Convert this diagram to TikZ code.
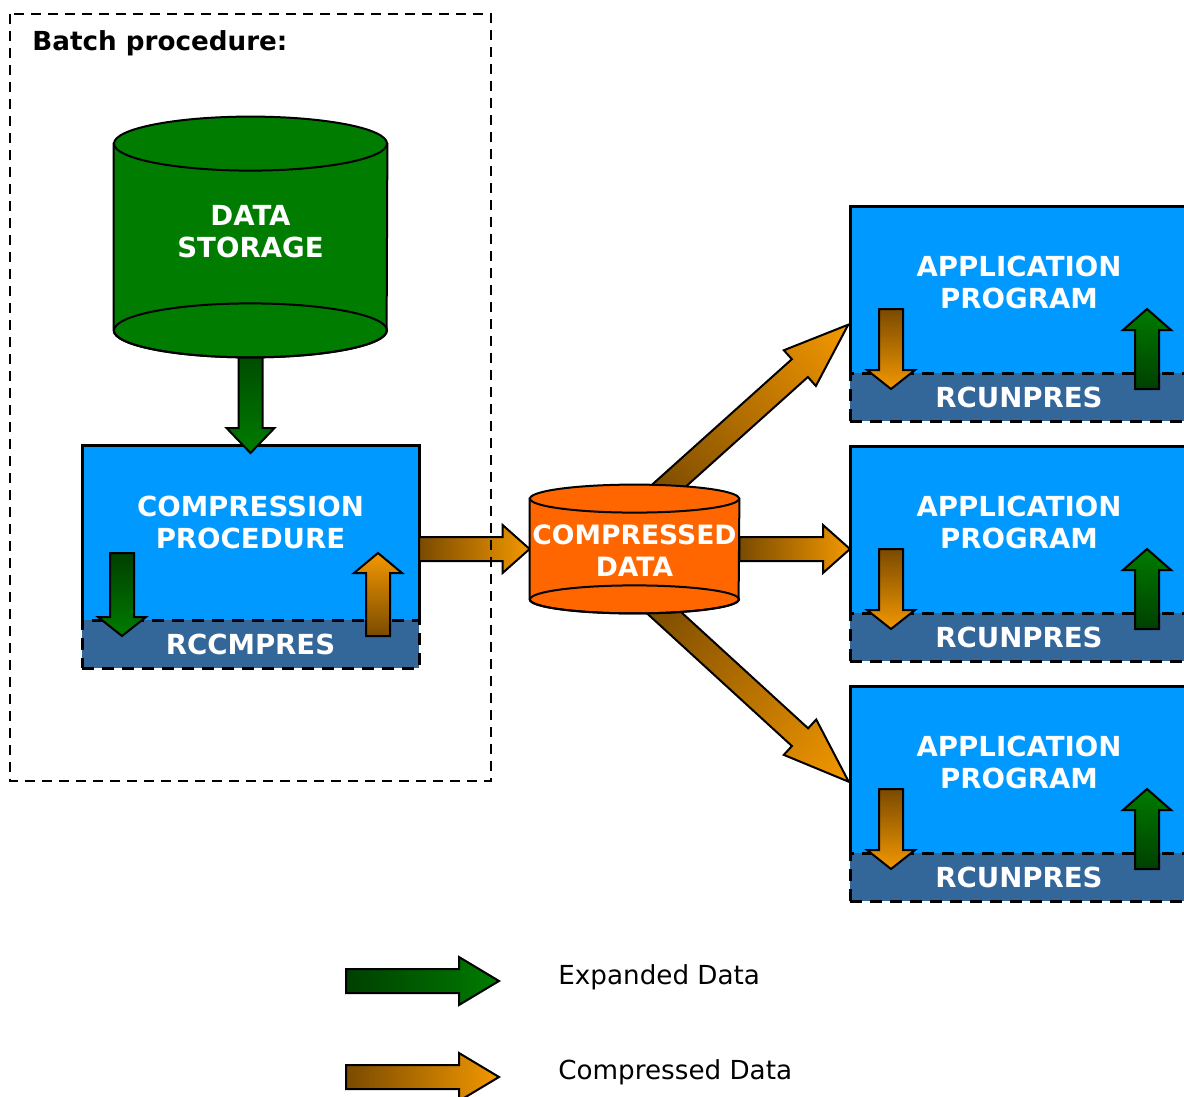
\documentclass[tikz,border=0pt]{standalone}
\usepackage{fontspec}
\setmainfont{DejaVu Sans}
\usetikzlibrary{calc}

\definecolor{procblue}{HTML}{0099FF}
\definecolor{bandblue}{HTML}{336699}
\definecolor{storegreen}{HTML}{007C00}
\definecolor{drumorange}{HTML}{FF6600}
\definecolor{arrlight}{HTML}{F39800}
\definecolor{arrdark}{HTML}{7A4A00}
\definecolor{grnlight}{HTML}{007C00}
\definecolor{grndark}{HTML}{003F00}

\tikzset{
  packed/.style = {left color=arrdark, right color=arrlight},
  expanded/.style = {left color=grndark, right color=grnlight},
  fatline/.style = {draw=black, line width=1pt},
  drumline/.style = {draw=black, line width=1pt},
  drumnode/.style = {rectangle, inner sep=0pt},
  boxtext/.style = {text=white, font=\fontsize{13.8}{16}\selectfont\bfseries, align=center},
  legtext/.style = {font=\fontsize{13.1}{16}\selectfont, anchor=west, inner sep=0pt},
  procbox/.style = {rectangle, fill=procblue, inner sep=0pt, outer sep=0pt},
  boxedge/.style = {draw=black, line width=1.5pt},
  libband/.style = {rectangle, draw=black, fill=bandblue, line width=1.5pt, dash pattern=on 6pt off 4pt, inner sep=0pt, outer sep=0pt},
  batchline/.style = {draw=black, line width=1pt, dash pattern=on 5pt off 3.5pt}
}

% fat block arrow: [head length in pt]{shading}{from}{to}
\newcommand\fatarrow[4][13.5]{%
  \path let \p1 = ($(#4)-(#3)$) in
    \pgfextra{\pgfmathparse{atan2(\y1,\x1)}\xdef\fatang{\pgfmathresult}%
              \pgfmathparse{veclen(\x1,\y1)}\xdef\fatlen{\pgfmathresult}};
  \shade[#2, fatline, transform canvas={shift={(#3)}, rotate=\fatang}]
    (0pt,-6pt) -- ({\fatlen pt-#1 pt},-6pt) -- ({\fatlen pt-#1 pt},-12pt)
    -- (\fatlen pt,0pt) -- ({\fatlen pt-#1 pt},12pt) -- ({\fatlen pt-#1 pt},6pt)
    -- (0pt,6pt) -- cycle;
}

% drum (cylinder) round an empty node: {node}{x radius}{y radius}{colour}
\newcommand\drum[4]{%
  \filldraw[fill=#4, drumline] (#1.north west) -- (#1.south west)
    arc[start angle=180, end angle=0, x radius=#2, y radius=#3] -- (#1.north east) -- cycle;
  \draw[drumline] (#1.south) ellipse [x radius=#2, y radius=#3];
  \filldraw[fill=#4, drumline] (#1.north) ellipse [x radius=#2, y radius=#3];
}

\begin{document}
\begin{tikzpicture}[x=0.5pt, y=-0.5pt]
\useasboundingbox (0,0) rectangle (1184,1097);
\clip (0,0) rectangle (1184,1097);

% Batch side
\node[drumnode, minimum width=136.5pt, minimum height=93pt] (storage) at (250.5,237) {};
\node[procbox, minimum width=168.5pt, minimum height=111.5pt] (comp) at (250.5,556.5) {};
\node[libband, minimum width=168.5pt, minimum height=24pt, anchor=south] (compband) at (comp.south) {};
\draw[boxedge] (compband.north west) |- (comp.north east) -- (compband.north east);

% Compressed data
\node[drumnode, minimum width=104.5pt, minimum height=50pt] (cdata) at (634.5,549) {};

% Application programs
\foreach \i in {1,2,3} {
  \node[procbox, minimum width=169pt, minimum height=107.5pt] (app\i) at (1019,{313.5+240*(\i-1)}) {};
  \node[libband, minimum width=169pt, minimum height=24pt, anchor=south] (band\i) at (app\i.south) {};
  \draw[boxedge] (band\i.north west) |- (app\i.north east) -- (band\i.north east);
}

% Main flow
\coordinate (compin) at ($(comp.north)+(0,8)$);
\coordinate (compout) at ($(comp.east)+(0,-7.5)$);
\coordinate (upstart) at ($(cdata.north)+(20,0)$);
\coordinate (downstart) at ($(cdata.south)+(15,0)$);
\coordinate (app1in) at ($(app1.west)+(-1,10.5)$);
\coordinate (app2in) at ($(app2.west)+(0,-4.5)$);
\coordinate (app3in) at ($(app3.west)+(-1,-11.5)$);

\fatarrow[12.5]{expanded}{storage.south}{compin}
\fatarrow{packed}{compout}{cdata.west}
\fatarrow{packed}{cdata.east}{app2in}
\fatarrow[32.5]{packed}{upstart}{app1in}
\fatarrow[33]{packed}{downstart}{app3in}

\drum{storage}{136.5}{27}{storegreen}
\drum{cdata}{104.5}{14}{drumorange}

% Arrows inside the boxes
\coordinate (compdnA) at ($(comp.north west)+(40,108)$);
\coordinate (compdnB) at ($(comp.north west)+(40,191)$);
\coordinate (compupA) at ($(comp.north west)+(296,191)$);
\coordinate (compupB) at ($(comp.north west)+(296,108)$);
\fatarrow[9.5]{expanded}{compdnA}{compdnB}
\fatarrow[10]{packed}{compupA}{compupB}

\foreach \i in {1,2,3} {
  \coordinate (dn\i A) at ($(app\i.north west)+(41,103)$);
  \coordinate (dn\i B) at ($(app\i.north west)+(41,183)$);
  \coordinate (up\i A) at ($(app\i.north west)+(297,183)$);
  \coordinate (up\i B) at ($(app\i.north west)+(297,103)$);
  \fatarrow[9.5]{packed}{dn\i A}{dn\i B}
  \fatarrow[10.5]{expanded}{up\i A}{up\i B}
}

% Labels
\node[boxtext] (storagetext) at ($(storage)+(0,-5)$) {DATA\\STORAGE};
\node[boxtext] (comptext) at ($(comp)+(0,-34)$) {COMPRESSION\\PROCEDURE};
\node[boxtext] (compbandtext) at (compband) {RCCMPRES};
\node[boxtext, font=\fontsize{13.3}{16}\selectfont\bfseries] (cdatatext) at ($(cdata)+(0,2)$) {COMPRESSED\\DATA};
\foreach \i in {1,2,3} {
  \node[boxtext] (app\i text) at ($(app\i)+(0,-31.5)$) {APPLICATION\\PROGRAM};
  \node[boxtext] (band\i text) at (band\i) {RCUNPRES};
}

% Batch procedure frame
\draw[batchline] (10,14) rectangle (491,781);
\node[font=\fontsize{13.1}{16}\selectfont\bfseries, anchor=base west, inner sep=0pt] (batchtitle) at (32,51) {Batch procedure:};

% Legend
\coordinate (legAs) at (346,981);
\coordinate (legAe) at (499,981);
\coordinate (legBs) at (346,1077);
\coordinate (legBe) at (499,1077);
\fatarrow[20]{expanded}{legAs}{legAe}
\fatarrow[20]{packed}{legBs}{legBe}
\node[legtext] (legA) at (558,977) {Expanded Data};
\node[legtext] (legB) at (558,1072) {Compressed Data};

\end{tikzpicture}
\end{document}
